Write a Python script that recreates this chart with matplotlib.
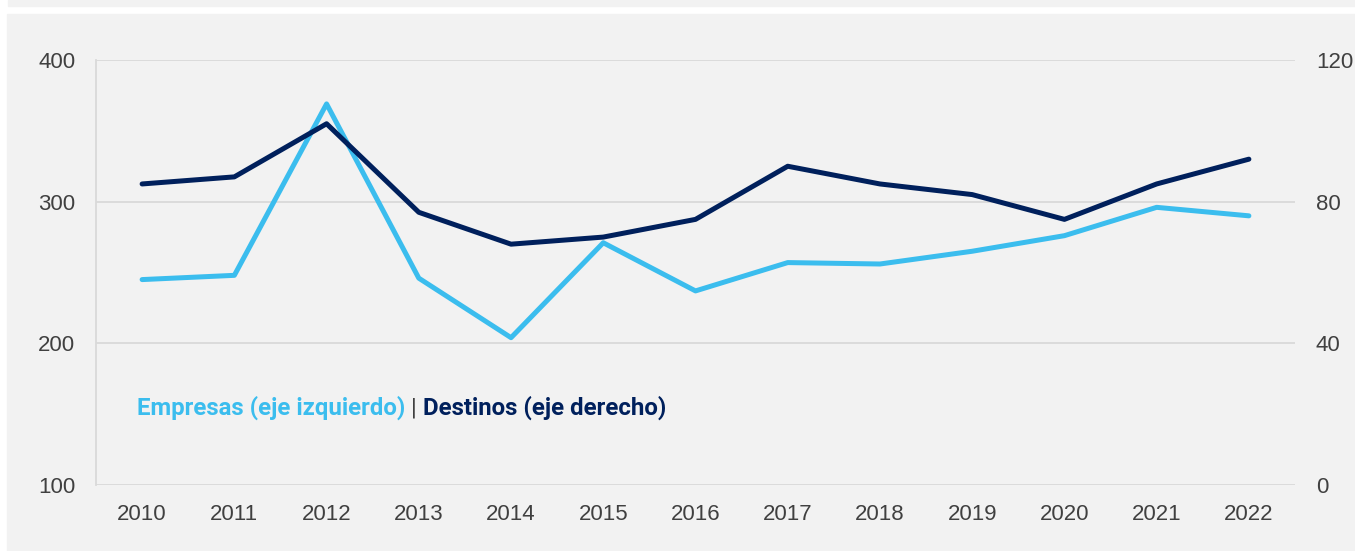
import matplotlib

matplotlib.use("Agg")
import matplotlib.pyplot as plt
from matplotlib.patches import Rectangle

# 企業数（左軸）と目的地数（右軸）
years = ["2010", "2011", "2012", "2013", "2014", "2015", "2016",
         "2017", "2018", "2019", "2020", "2021", "2022"]
empresas = [245, 248, 369, 246, 204, 271, 237, 257, 256, 265, 276, 296, 290]
destinos = [85, 87, 102, 77, 68, 70, 75, 90, 85, 82, 75, 85, 92]

left_ticks = [100, 200, 300, 400]
right_ticks = [0, 40, 80, 120]

LIGHT = "#3bbdee"
DARK = "#00205c"
GRID = "#d9d9d9"
TEXT = "#404040"
PANEL = "#f2f2f2"

plt.rcParams["font.family"] = ["Liberation Sans", "DejaVu Sans"]

W, H = 1355, 551
fig = plt.figure(figsize=(W / 100, H / 100), dpi=100, facecolor="white")

# 背景パネル（上の細い帯と本体）
fig.patches.append(Rectangle((8 / W, 1 - 6 / H), 1 - 8 / W, 6 / H,
                             transform=fig.transFigure, color=PANEL, zorder=-10))
fig.patches.append(Rectangle((7 / W, 0), 1 - 7 / W, 1 - 14 / H,
                             transform=fig.transFigure, color=PANEL, zorder=-10))

ax = fig.add_axes([96 / W, 66 / H, 1199 / W, 425 / H])
ax.set_facecolor("none")
ax2 = ax.twinx()
ax2.set_facecolor("none")

x = list(range(len(years)))
ax.plot(x, empresas, color=LIGHT, lw=3.6, solid_capstyle="round", zorder=3)
ax2.plot(x, destinos, color=DARK, lw=3.6, solid_capstyle="round", zorder=3)

ax.set_xlim(-0.5, len(years) - 0.5)
ax.set_ylim(100, 400)
ax2.set_ylim(0, 120)
ax.set_yticks(left_ticks)
ax2.set_yticks(right_ticks)
ax.set_xticks(x)
ax.set_xticklabels(years)

ax.grid(axis="y", color=GRID, lw=1.3)
ax.set_axisbelow(True)

for a in (ax, ax2):
    for s in ("top", "right", "bottom", "left"):
        a.spines[s].set_visible(False)
ax.spines["left"].set_visible(True)
ax.spines["left"].set_color(GRID)
ax.spines["left"].set_linewidth(1.3)

ax.tick_params(axis="y", length=0, pad=15, labelsize=16, labelcolor=TEXT)
ax.tick_params(axis="x", length=0, pad=14, labelsize=16, labelcolor=TEXT)
ax2.tick_params(axis="y", length=0, pad=15, labelsize=16, labelcolor=TEXT)

# 凡例代わりの色付きテキスト
FS = 17.3
t1 = ax.text(0.034, 0.181, "Empresas (eje izquierdo)", transform=ax.transAxes,
             color=LIGHT, fontsize=FS, fontweight="bold", family="Roboto",
             va="center", ha="left")
fig.canvas.draw()
bb = t1.get_window_extent()
inv = ax.transAxes.inverted()
x1 = inv.transform((bb.x1, bb.y0))[0]
t2 = ax.text(x1, 0.181, " | ", transform=ax.transAxes, color=TEXT,
             fontsize=FS, family="Roboto", va="center", ha="left")
bb2 = t2.get_window_extent()
x2 = inv.transform((bb2.x1, bb2.y0))[0]
ax.text(x2, 0.181, "Destinos (eje derecho)", transform=ax.transAxes,
        color=DARK, fontsize=FS, fontweight="bold", family="Roboto",
        va="center", ha="left")

fig.savefig("out.png", dpi=100, facecolor="white")
